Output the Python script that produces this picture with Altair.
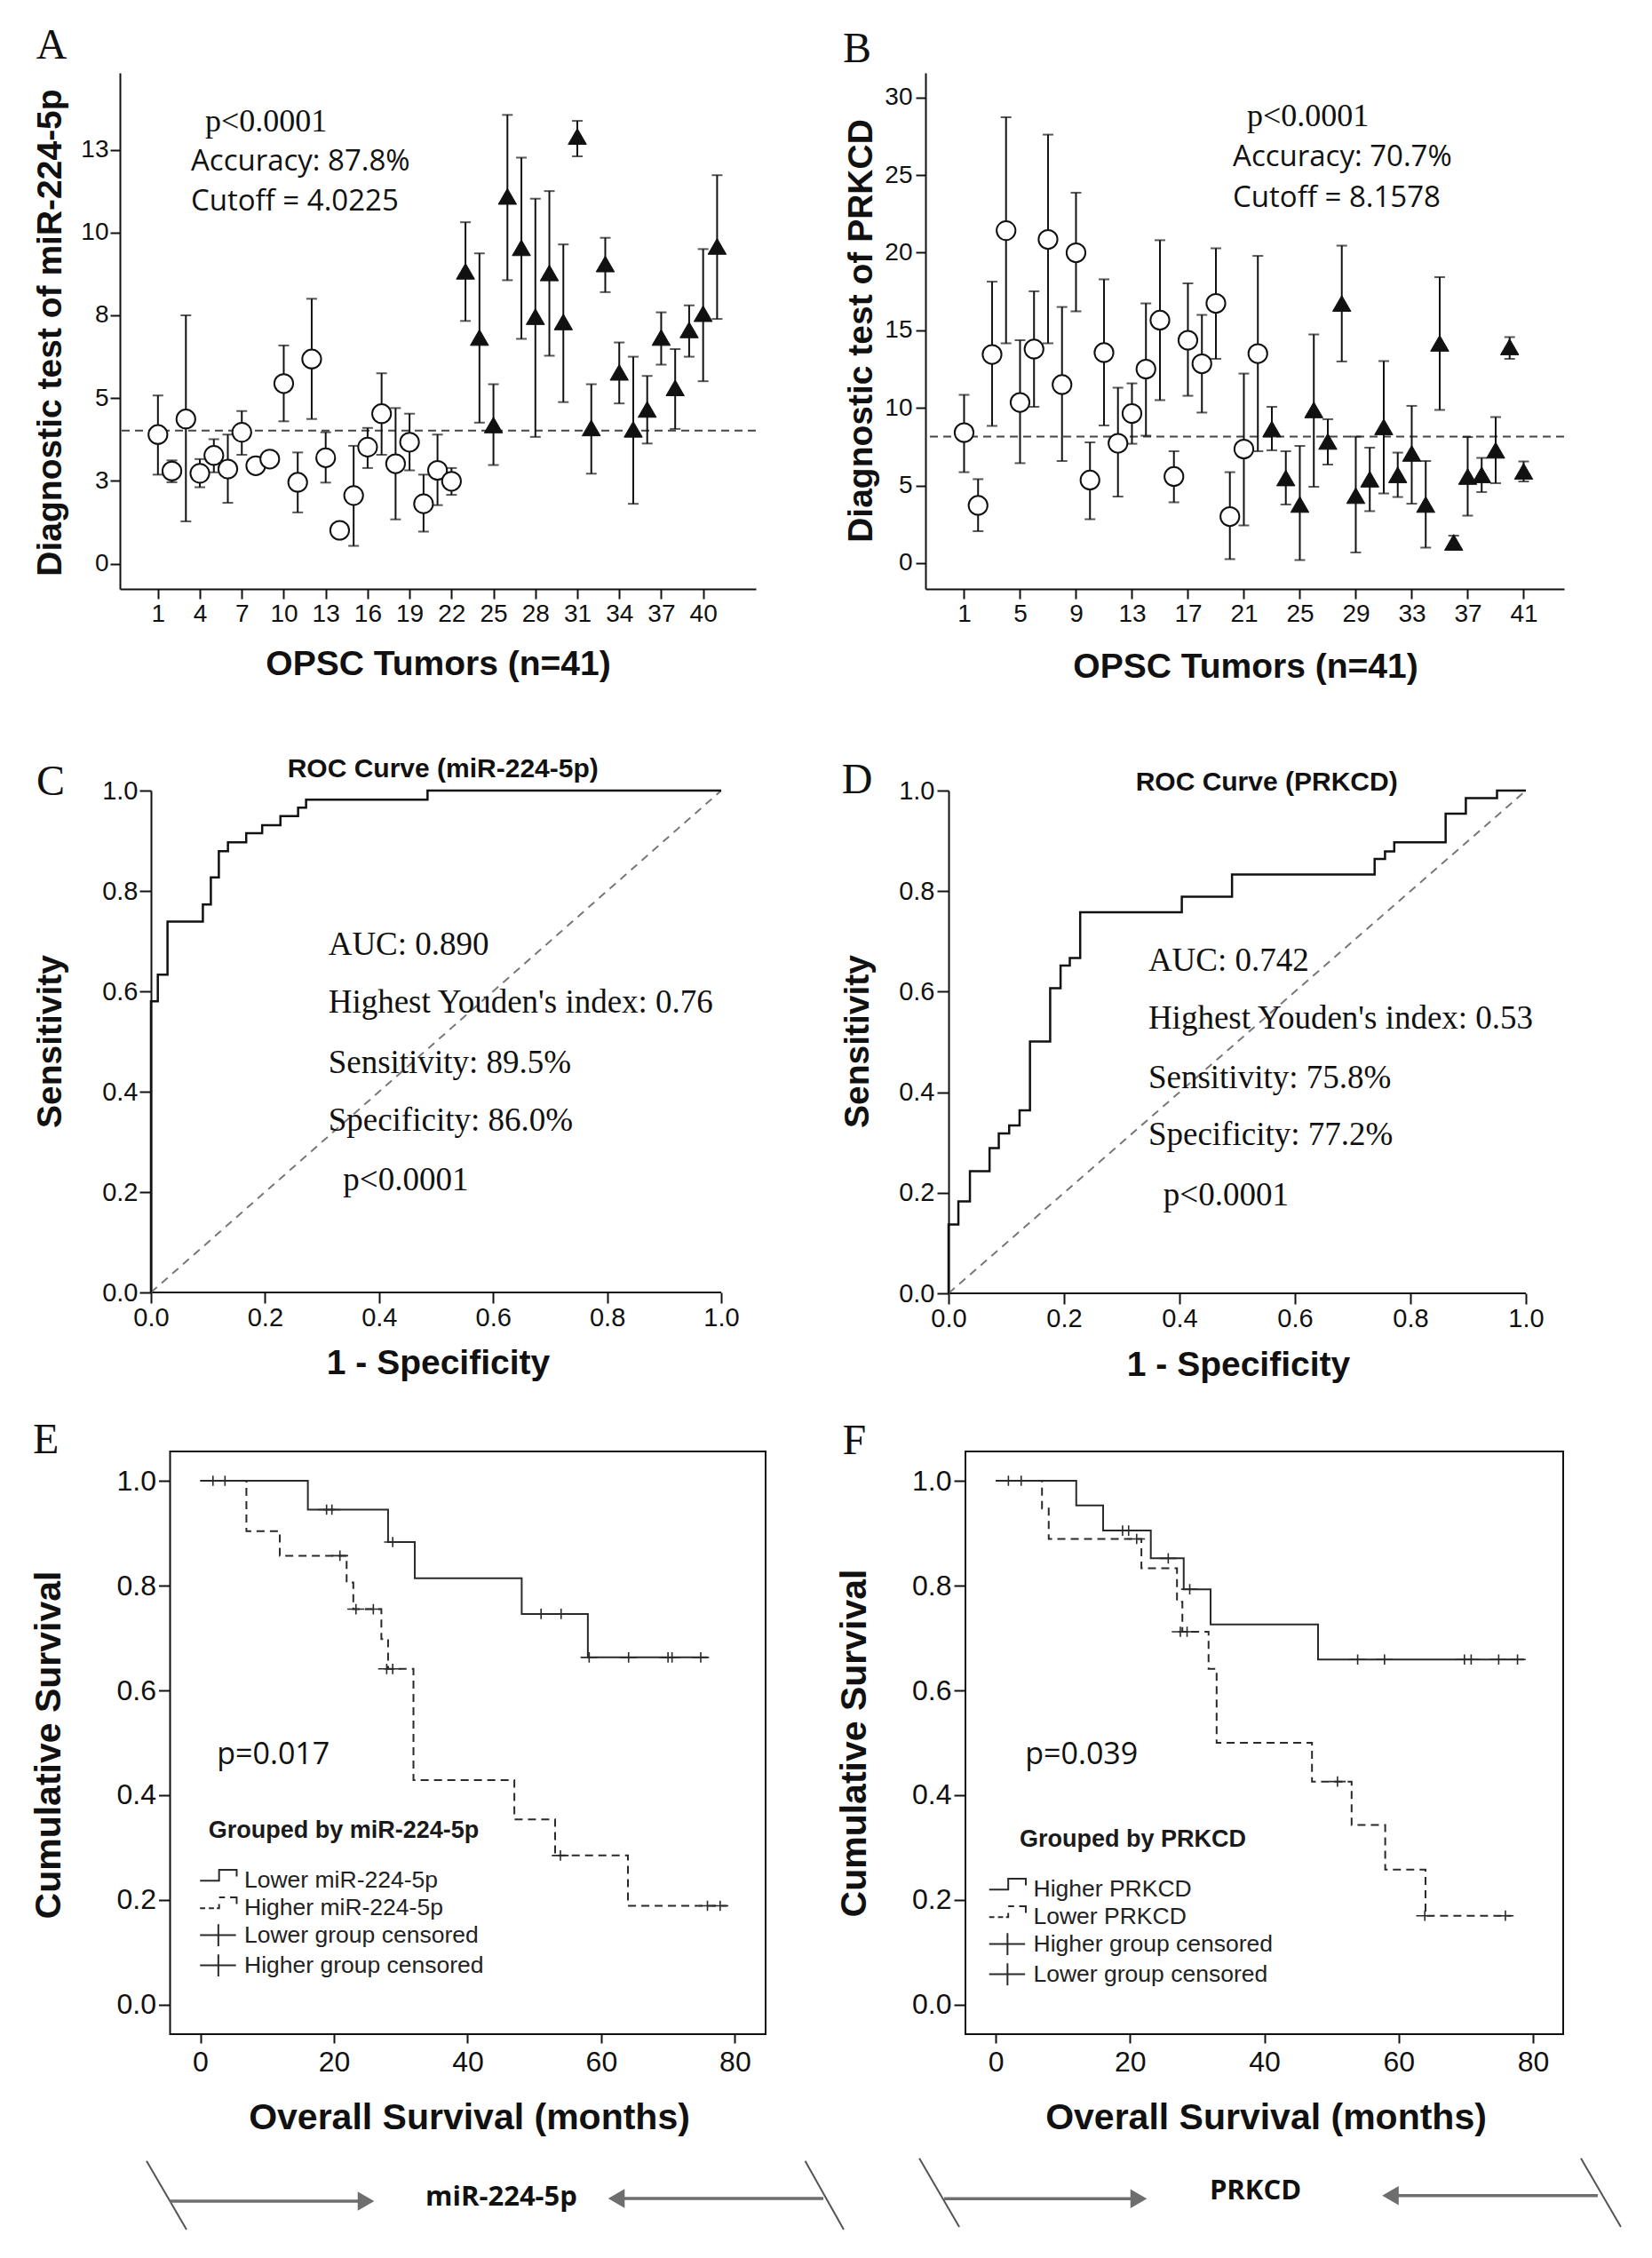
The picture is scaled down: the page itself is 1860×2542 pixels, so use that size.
import altair as alt
import pandas as pd

SANS = "Liberation Sans"
SERIF = "Liberation Serif"
SOFT = "Open Sans"
INK = "#111111"
LINE = "#2a2a2a"
ARROW = "#6e6e6e"

# ---------------- Panels A / B : per-tumour diagnostic test ----------------
tumor = list(range(1, 42))
marker_kind = ["below"] * 22 + ["above"] * 19

mir_mean = [3.90, 2.80, 4.37, 2.73, 3.27, 2.86, 3.97, 2.96, 3.16, 5.44, 2.46, 6.18, 3.20, 1.01,
            2.06, 3.52, 4.53, 3.02, 3.67, 1.81, 2.82, 2.49, 8.83, 6.83, 4.19, 11.09, 9.54, 7.46,
            8.78, 7.30, 12.90, 4.10, 9.05, 5.78, 4.06, 4.66, 6.83, 5.31, 7.06, 7.55, 9.58]
mir_low = [2.69, 2.46, 1.28, 2.31, 2.76, 1.84, 3.29, 2.82, 2.98, 4.30, 1.55, 4.37, 2.45, 0.77,
           0.54, 2.89, 3.29, 1.34, 2.82, 0.97, 1.77, 2.08, 7.33, 4.26, 2.98, 8.56, 6.79, 3.83,
           6.28, 4.88, 12.30, 2.72, 8.20, 4.84, 1.81, 3.63, 6.01, 4.07, 6.25, 5.51, 7.39]
mir_high = [5.08, 3.12, 7.50, 3.16, 3.76, 3.90, 4.61, 3.09, 3.29, 6.59, 3.36, 8.00, 3.97, 1.21,
            3.56, 4.10, 5.75, 4.70, 4.53, 2.69, 3.90, 2.89, 10.31, 9.37, 5.42, 13.55, 12.26, 11.02,
            11.25, 9.64, 13.37, 5.42, 9.84, 6.68, 6.25, 5.67, 7.59, 6.48, 7.80, 9.50, 11.73]
mir_cutoff = [4.0225]

prk_mean = [8.41, 3.72, 13.44, 21.42, 10.35, 13.79, 20.85, 11.50, 19.99, 5.35, 13.56, 7.72, 9.64,
            12.50, 15.65, 5.58, 14.36, 12.84, 16.73, 3.00, 7.35, 13.50, 8.64, 5.49, 3.78, 9.87,
            7.84, 16.73, 4.35, 5.41, 8.78, 5.69, 7.07, 3.78, 14.16, 1.34, 5.58, 5.69, 7.27, 13.93, 5.92]
prk_low = [5.86, 2.06, 8.84, 14.16, 6.44, 10.07, 14.16, 6.58, 16.22, 2.83, 8.87, 4.29, 7.69,
           8.21, 10.50, 3.92, 10.78, 9.70, 13.16, 0.26, 2.43, 7.21, 7.27, 3.78, 0.20, 4.92,
           6.35, 12.99, 0.69, 3.35, 4.49, 4.26, 3.83, 1.00, 9.87, 1.00, 3.06, 4.58, 5.15, 13.16, 5.26]
prk_high = [10.84, 5.41, 18.13, 28.72, 14.36, 17.51, 27.60, 16.50, 23.86, 7.78, 18.28, 11.30, 11.58,
            16.73, 20.80, 7.21, 18.02, 15.99, 20.28, 5.86, 12.21, 19.79, 10.07, 7.21, 7.55, 14.73,
            9.27, 20.45, 8.15, 7.44, 13.01, 7.12, 10.13, 6.58, 18.42, 1.77, 8.12, 6.78, 9.41, 14.56, 6.55]
prk_cutoff = [8.1578]

ticks_a_x = [1, 4, 7, 10, 13, 16, 19, 22, 25, 28, 31, 34, 37, 40]
ticks_a_y = [0, 2.5, 5, 7.5, 10, 12.5]
ticks_b_x = [1, 5, 9, 13, 17, 21, 25, 29, 33, 37, 41]
ticks_b_y = [0, 5, 10, 15, 20, 25, 30]

notes_a = ["Accuracy: 87.8%", "Cutoff = 4.0225"]
notes_a_x = [3.36, 3.36]
notes_a_y = [12.14, 10.93]
notes_b = ["Accuracy: 70.7%", "Cutoff = 8.1578"]
notes_b_x = [20.21, 20.21]
notes_b_y = [26.12, 23.54]
pnote_a = (4.38, 13.35)
pnote_b = (21.22, 28.80)

# ---------------- Panels C / D : ROC curves ----------------
roc_c_fpr = [0, 0, 0.012, 0.029, 0.091, 0.105, 0.119, 0.135, 0.167, 0.195, 0.227, 0.258, 0.272, 0.485, 1.0]
roc_c_tpr = [0, 0.58, 0.633, 0.739, 0.773, 0.827, 0.879, 0.897, 0.915, 0.931, 0.949, 0.966, 0.982, 1.0, 1.0]
roc_d_fpr = [0, 0, 0.017, 0.037, 0.071, 0.087, 0.105, 0.123, 0.141, 0.176, 0.194, 0.210, 0.228,
             0.404, 0.491, 0.738, 0.756, 0.772, 0.861, 0.896, 0.950, 1.0]
roc_d_tpr = [0, 0.137, 0.183, 0.243, 0.289, 0.318, 0.334, 0.364, 0.501, 0.607, 0.652, 0.667, 0.758,
             0.789, 0.833, 0.864, 0.879, 0.897, 0.954, 0.985, 1.0, 1.0]
diag = [0, 1]
roc_ticks = [0, 0.2, 0.4, 0.6, 0.8, 1.0]

roc_c_notes = ["AUC: 0.890", "Highest Youden's index: 0.76", "Sensitivity: 89.5%",
               "Specificity: 86.0%", "p<0.0001"]
roc_c_notes_x = [0.311, 0.311, 0.311, 0.311, 0.337]
roc_c_notes_y = [0.692, 0.577, 0.4575, 0.342, 0.223]
roc_d_notes = ["AUC: 0.742", "Highest Youden's index: 0.53", "Sensitivity: 75.8%",
               "Specificity: 77.2%", "p<0.0001"]
roc_d_notes_x = [0.346, 0.346, 0.346, 0.346, 0.372]
roc_d_notes_y = [0.660, 0.546, 0.428, 0.314, 0.194]

# ---------------- Panels E / F : Kaplan-Meier ----------------
km_e_low_t = [0, 16.1, 28.1, 32.1, 48.1, 58.0, 75.9]
km_e_low_s = [1.0, 0.945, 0.883, 0.814, 0.746, 0.663, 0.663]
km_e_high_t = [0, 6.9, 11.9, 21.9, 22.9, 27.1, 28.1, 31.9, 47.0, 53.1, 64.0, 78.8]
km_e_high_s = [1.0, 0.904, 0.857, 0.806, 0.755, 0.698, 0.641, 0.429, 0.354, 0.285, 0.189, 0.189]
cen_e_low_t = [2.0, 3.8, 19.0, 19.8, 28.9, 51.1, 54.1, 58.3, 64.2, 70.1, 70.7, 75.0]
cen_e_low_s = [1.0, 1.0, 0.945, 0.945, 0.883, 0.746, 0.746, 0.663, 0.663, 0.663, 0.663, 0.663]
cen_e_high_t = [21.0, 23.4, 26.0, 28.0, 28.9, 54.0, 76.0, 77.9]
cen_e_high_s = [0.857, 0.755, 0.755, 0.641, 0.641, 0.285, 0.189, 0.189]

km_f_high_t = [0, 12.0, 16.0, 23.1, 28.0, 32.0, 48.0, 78.7]
km_f_high_s = [1.0, 0.953, 0.905, 0.852, 0.793, 0.726, 0.659, 0.659]
km_f_low_t = [0, 6.9, 7.9, 21.7, 27.0, 27.8, 31.7, 32.9, 47.1, 53.0, 58.0, 64.0, 76.8]
km_f_low_s = [1.0, 0.947, 0.889, 0.833, 0.769, 0.712, 0.641, 0.500, 0.426, 0.343, 0.258, 0.170, 0.170]
cen_f_high_t = [2.0, 3.9, 19.0, 19.9, 25.8, 29.0, 54.0, 58.0, 69.9, 70.9, 75.0, 77.8]
cen_f_high_s = [1.0, 1.0, 0.905, 0.905, 0.852, 0.793, 0.659, 0.659, 0.659, 0.659, 0.659, 0.659]
cen_f_low_t = [21.1, 27.6, 28.6, 51.0, 64.0, 76.0]
cen_f_low_s = [0.889, 0.712, 0.712, 0.426, 0.170, 0.170]

keys_e = ["Lower miR-224-5p", "Higher miR-224-5p", "Lower group censored", "Higher group censored"]
keys_f = ["Higher PRKCD", "Lower PRKCD", "Higher group censored", "Lower group censored"]
km_ticks_x = [0, 20, 40, 60, 80]
km_ticks_y = [0, 0.2, 0.4, 0.6, 0.8, 1.0]
km_frame_e = ([-4.52, 84.6], [-0.056, 1.056])
km_frame_f = ([-4.5, 84.5], [-0.056, 1.056])

# decorative arrows under E and F (survival-axis units)
arr_e = dict(slant_x=[-8.04, 90.52], slant_x2=[-2.06, 96.29], slant_y=[-0.298, -0.298], slant_y2=[-0.429, -0.429],
             shaft_x=[-4.59, 62.27], shaft_x2=[24.79, 93.24], shaft_y=[-0.3746, -0.3695],
             head_r=(24.79, -0.3746), head_l=(62.27, -0.3695), label=("miR-224-5p", 45.06, -0.368))
arr_f = dict(slant_x=[-11.37, 87.14], slant_x2=[-5.42, 93.09], slant_y=[-0.293, -0.293], slant_y2=[-0.424, -0.424],
             shaft_x=[-7.67, 58.78], shaft_x2=[21.29, 89.65], shaft_y=[-0.370, -0.364],
             head_r=(21.29, -0.370), head_l=(58.78, -0.364), label=("PRKCD", 38.68, -0.356))

STEP_SOLID = "M-1.35,0.05H-0.05V-0.7H1.15V-0.25"
STEP_DASH = "M-1.35,0.05H-1.0M-0.75,0.05H-0.4M-0.2,0.05H-0.05V-0.25M-0.05,-0.7H0.35M0.7,-0.7H1.15V-0.25"
PLUS = "M-1.35,0H1.1M-0.1,-0.75V0.75"


def axis(**kw):
    base = dict(grid=False, domainColor=INK, domainWidth=2, tickColor=INK, tickWidth=2,
                labelFont=SANS, labelColor=INK, labelFlush=False, labelOverlap=False,
                titleFont=SANS, titleFontWeight="bold", titleColor=INK,
                titleAlign="center", titleBaseline="middle")
    base.update(kw)
    return alt.Axis(**base)


def letter_layer(X, Y, text, x, y):
    df = pd.DataFrame({"lx": [x], "ly": [y], "lt": [text]})
    return alt.Chart(df).mark_text(font=SERIF, fontSize=48, align="left", baseline="alphabetic",
                                   color=INK).encode(x=X("lx"), y=Y("ly"), text="lt:N")


def scatter_panel(mean, lo, hi, cut, scx, scy, axx, axy, notes, nx, ny, pnote, letter, w, h):
    X = lambda f: alt.X(f, type="quantitative", scale=scx, axis=axx)
    Y = lambda f: alt.Y(f, type="quantitative", scale=scy, axis=axy)
    df = pd.DataFrame({"tumor": tumor, "mean": mean, "lo": lo, "hi": hi, "kind": marker_kind})
    base = alt.Chart(df)
    cutl = alt.Chart(pd.DataFrame({"cut": cut})).mark_rule(
        color="#444444", strokeWidth=2, strokeDash=[9, 6]).encode(y=Y("cut"))
    bars = base.mark_rule(color=INK, strokeWidth=2).encode(x=X("tumor"), y=Y("lo"), y2="hi")
    cap_lo = base.mark_tick(orient="horizontal", size=12, thickness=2, color=INK).encode(x=X("tumor"), y=Y("lo"))
    cap_hi = base.mark_tick(orient="horizontal", size=12, thickness=2, color=INK).encode(x=X("tumor"), y=Y("hi"))
    circ = base.transform_filter(alt.datum.kind == "below").mark_point(
        shape="circle", size=450, filled=True, fill="white", stroke=INK, strokeWidth=2, opacity=1
    ).encode(x=X("tumor"), y=Y("mean"))
    tri = base.transform_filter(alt.datum.kind == "above").mark_point(
        shape="triangle-up", size=420, filled=True, fill=INK, stroke=INK, strokeWidth=1, opacity=1
    ).encode(x=X("tumor"), y=Y("mean"))
    ndf = pd.DataFrame({"nx": nx, "ny": ny, "nt": notes})
    ntext = alt.Chart(ndf).mark_text(font=SOFT, fontSize=33, align="left", baseline="middle",
                                     color=INK).encode(x=X("nx"), y=Y("ny"), text="nt:N")
    pdf = pd.DataFrame({"px": [pnote[0]], "py": [pnote[1]], "pt": ["p<0.0001"]})
    ptext = alt.Chart(pdf).mark_text(font=SERIF, fontSize=36, align="left", baseline="middle",
                                     color=INK).encode(x=X("px"), y=Y("py"), text="pt:N")
    let = letter_layer(X, Y, *letter)
    return alt.layer(cutl, bars, cap_lo, cap_hi, circ, tri, ntext, ptext, let).properties(width=w, height=h)


def roc_panel(fpr, tpr, notes, nx, ny, title, letter, scx, axx, axy, w, h):
    scy = alt.Scale(domain=[0, 1], nice=False, zero=False)
    X = lambda f: alt.X(f, type="quantitative", scale=scx, axis=axx)
    Y = lambda f: alt.Y(f, type="quantitative", scale=scy, axis=axy)
    base_df = pd.DataFrame({"bx": [diag[0]], "bx2": [diag[1]], "by": [diag[0]]})
    baseline = alt.Chart(base_df).mark_rule(color=INK, strokeWidth=2).encode(x=X("bx"), x2="bx2", y=Y("by"))
    ddf = pd.DataFrame({"dx": diag, "dy": diag})
    dline = alt.Chart(ddf).mark_line(color="#777777", strokeWidth=2, strokeDash=[9, 7]).encode(x=X("dx"), y=Y("dy"))
    rdf = pd.DataFrame({"fpr": fpr, "tpr": tpr, "i": list(range(len(fpr)))})
    curve = alt.Chart(rdf).mark_line(interpolate="step-after", color=INK, strokeWidth=2.5).encode(
        x=X("fpr"), y=Y("tpr"), order="i:Q")
    ndf = pd.DataFrame({"nx": nx, "ny": ny, "nt": notes})
    ntext = alt.Chart(ndf).mark_text(font=SERIF, fontSize=37, align="left", baseline="middle",
                                     color=INK).encode(x=X("nx"), y=Y("ny"), text="nt:N")
    tdf = pd.DataFrame({"tx": [title[1]], "ty": [title[2]], "tt": [title[0]]})
    ttext = alt.Chart(tdf).mark_text(font=SANS, fontSize=30, fontWeight="bold", align="center",
                                     baseline="middle", color=INK).encode(x=X("tx"), y=Y("ty"), text="tt:N")
    let = letter_layer(X, Y, *letter)
    return alt.layer(baseline, dline, curve, ntext, ttext, let).properties(width=w, height=h)


def km_panel(solid, dashed, cens_a, cens_b, keys, legend_title, pnote, arr, letter, frame,
             scx, scy, axx, axy, legx, legy, w, h):
    X = lambda f: alt.X(f, type="quantitative", scale=scx, axis=axx)
    Y = lambda f: alt.Y(f, type="quantitative", scale=scy, axis=axy)
    fdf = pd.DataFrame({"x": [frame[0][0]], "x2": [frame[0][1]], "y": [frame[1][0]], "y2": [frame[1][1]]})
    box = alt.Chart(fdf).mark_rect(fillOpacity=0, stroke=INK, strokeWidth=2).encode(
        x=X("x"), x2="x2", y=Y("y"), y2="y2")
    sdf = pd.DataFrame({"t": solid[0], "s": solid[1], "i": list(range(len(solid[0])))})
    ddf = pd.DataFrame({"t": dashed[0], "s": dashed[1], "i": list(range(len(dashed[0])))})
    l1 = alt.Chart(sdf).mark_line(interpolate="step-after", color=LINE, strokeWidth=2).encode(
        x=X("t"), y=Y("s"), order="i:Q")
    l2 = alt.Chart(ddf).mark_line(interpolate="step-after", color=LINE, strokeWidth=2,
                                  strokeDash=[9, 6]).encode(x=X("t"), y=Y("s"), order="i:Q")
    cdf = pd.concat([
        pd.DataFrame({"t": cens_a[0], "s": cens_a[1], "key": keys[2]}),
        pd.DataFrame({"t": cens_b[0], "s": cens_b[1], "key": keys[3]}),
    ])
    leg = alt.Legend(title=legend_title, orient="none", legendX=legx, legendY=legy, padding=0,
                     titleFont=SANS, titleFontSize=27, titleFontWeight="bold", titleColor="#1a1a1a",
                     titleAnchor="middle", titlePadding=24, titleLimit=600,
                     labelFont=SANS, labelFontSize=26.5, labelColor="#222222", labelOffset=10, labelLimit=600,
                     symbolSize=1089, symbolStrokeWidth=2, symbolStrokeColor=LINE,
                     symbolFillColor="transparent", symbolOpacity=1, rowPadding=0)
    cens = alt.Chart(cdf).mark_point(filled=False, color=LINE, strokeWidth=1.6, size=240, opacity=1).encode(
        x=X("t"), y=Y("s"),
        shape=alt.Shape("key:N", scale=alt.Scale(domain=keys, range=[STEP_SOLID, STEP_DASH, PLUS, PLUS]),
                        legend=leg))
    pdf = pd.DataFrame({"px": [pnote[1]], "py": [pnote[2]], "pt": [pnote[0]]})
    ptext = alt.Chart(pdf).mark_text(font=SOFT, fontSize=34, align="left", baseline="middle",
                                     color=INK).encode(x=X("px"), y=Y("py"), text="pt:N")
    # arrows
    slant = alt.Chart(pd.DataFrame({"x": arr["slant_x"], "x2": arr["slant_x2"], "y": arr["slant_y"],
                                    "y2": arr["slant_y2"]})).mark_rule(color="#555555", strokeWidth=2).encode(
        x=X("x"), x2="x2", y=Y("y"), y2="y2")
    shaft = alt.Chart(pd.DataFrame({"x": arr["shaft_x"], "x2": arr["shaft_x2"], "y": arr["shaft_y"]})).mark_rule(
        color=ARROW, strokeWidth=3.5).encode(x=X("x"), x2="x2", y=Y("y"))
    hr = alt.Chart(pd.DataFrame({"x": [arr["head_r"][0]], "y": [arr["head_r"][1]]})).mark_point(
        shape="triangle-right", size=460, filled=True, color=ARROW, opacity=1).encode(x=X("x"), y=Y("y"))
    hl = alt.Chart(pd.DataFrame({"x": [arr["head_l"][0]], "y": [arr["head_l"][1]]})).mark_point(
        shape="triangle-left", size=460, filled=True, color=ARROW, opacity=1).encode(x=X("x"), y=Y("y"))
    lab = alt.Chart(pd.DataFrame({"x": [arr["label"][1]], "y": [arr["label"][2]], "t": [arr["label"][0]]})).mark_text(
        font=SOFT, fontSize=31, fontWeight="bold", align="center", baseline="middle", color=INK).encode(
        x=X("x"), y=Y("y"), text="t:N")
    let = letter_layer(X, Y, *letter)
    return alt.layer(box, l1, l2, cens, ptext, slant, shaft, hr, hl, lab, let).properties(width=w, height=h)


# ---------------- build panels ----------------
panel_a = scatter_panel(
    mir_mean, mir_low, mir_high, mir_cutoff,
    alt.Scale(domain=[-1.72, 43.77], nice=False, zero=False),
    alt.Scale(domain=[-0.76, 14.82], nice=False, zero=False),
    axis(values=ticks_a_x, title="OPSC Tumors (n=41)", labelFontSize=28, tickSize=11, labelPadding=3,
         titleFontSize=39, titleX=358, titleY=84),
    axis(values=ticks_a_y, labelExpr="round(datum.value)", title="Diagnostic test of miR-224-5p",
         labelFontSize=28, tickSize=11, labelPadding=2, titleFontSize=39, titleX=-79, titleY=292, titleAngle=270),
    notes_a, notes_a_x, notes_a_y, pnote_a, ("A", -7.71, 15.25), 716, 581)

panel_b = scatter_panel(
    prk_mean, prk_low, prk_high, prk_cutoff,
    alt.Scale(domain=[-1.76, 43.89], nice=False, zero=False),
    alt.Scale(domain=[-1.66, 31.58], nice=False, zero=False),
    axis(values=ticks_b_x, title="OPSC Tumors (n=41)", labelFontSize=28, tickSize=11, labelPadding=3,
         titleFontSize=39, titleX=360, titleY=87),
    axis(values=ticks_b_y, title="Diagnostic test of PRKCD", labelFontSize=28, tickSize=11, labelPadding=4,
         titleFontSize=39, titleX=-73, titleY=290, titleAngle=270),
    notes_b, notes_b_x, notes_b_y, pnote_b, ("B", -7.66, 32.24), 719, 581)

# panel C: plot area starts at the same left edge as panel A; the axes are shifted in to 0.0
panel_c = roc_panel(
    roc_c_fpr, roc_c_tpr, roc_c_notes, roc_c_notes_x, roc_c_notes_y,
    ("ROC Curve (miR-224-5p)", 0.512, 1.042), ("C", -0.201, 0.992),
    alt.Scale(domain=[-0.0545, 1], nice=False, zero=False),
    axis(values=roc_ticks, format=".1f", domain=False, title="1 - Specificity", labelFontSize=29, tickSize=12,
         labelPadding=2, titleFontSize=39, titleX=358, titleY=79),
    axis(values=roc_ticks, format=".1f", offset=-35, title="Sensitivity", labelFontSize=29, tickSize=13,
         labelPadding=2, titleFontSize=39, titleX=-114, titleY=282, titleAngle=270),
    677, 565)

panel_d = roc_panel(
    roc_d_fpr, roc_d_tpr, roc_d_notes, roc_d_notes_x, roc_d_notes_y,
    ("ROC Curve (PRKCD)", 0.551, 1.016), ("D", -0.185, 0.994),
    alt.Scale(domain=[0, 1], nice=False, zero=False),
    axis(values=roc_ticks, format=".1f", domain=False, title="1 - Specificity", labelFontSize=29, tickSize=12,
         labelPadding=2, titleFontSize=39, titleX=326, titleY=80),
    axis(values=roc_ticks, format=".1f", title="Sensitivity", labelFontSize=29, tickSize=13, labelPadding=3,
         titleFontSize=39, titleX=-103, titleY=282, titleAngle=270),
    650, 566)

# panel E: plot area starts at the same left edge as panel A; frame and y axis sit at -4.5 months
panel_e = km_panel(
    (km_e_low_t, km_e_low_s), (km_e_high_t, km_e_high_s),
    (cen_e_low_t, cen_e_low_s), (cen_e_high_t, cen_e_high_s),
    keys_e, "Grouped by miR-224-5p", ("p=0.017", 2.5, 0.476), arr_e, ("E", -25.05, 1.0525), km_frame_e,
    alt.Scale(domain=[-12.03, 84.6], nice=False, zero=False),
    alt.Scale(domain=[-0.056, 1.056], nice=False, zero=False),
    axis(values=km_ticks_x, domain=False, title="Overall Survival (months)", labelFontSize=32, tickSize=10,
         labelPadding=6, titleFontSize=41, titleX=393, titleY=94),
    axis(values=km_ticks_y, format=".1f", domain=False, offset=-56.5, title="Cumulative Survival",
         labelFontSize=32, tickSize=13, labelPadding=3, titleFontSize=41, titleX=-136, titleY=330,
         titleAngle=270),
    95, 414, 727, 656)

panel_f = km_panel(
    (km_f_high_t, km_f_high_s), (km_f_low_t, km_f_low_s),
    (cen_f_high_t, cen_f_high_s), (cen_f_low_t, cen_f_low_s),
    keys_f, "Grouped by PRKCD", ("p=0.039", 4.4, 0.476), arr_f, ("F", -22.8, 1.051), km_frame_f,
    alt.Scale(domain=[-4.5, 84.5], nice=False, zero=False),
    alt.Scale(domain=[-0.056, 1.056], nice=False, zero=False),
    axis(values=km_ticks_x, domain=False, title="Overall Survival (months)", labelFontSize=32, tickSize=10,
         labelPadding=6, titleFontSize=41, titleX=338, titleY=94),
    axis(values=km_ticks_y, format=".1f", domain=False, title="Cumulative Survival", labelFontSize=32,
         tickSize=13, labelPadding=3, titleFontSize=41, titleX=-125, titleY=328, titleAngle=270),
    31.5, 424, 673, 656)

row1 = alt.concat(panel_a, panel_b, columns=2, align="none", spacing=97)
row2 = alt.concat(panel_c, panel_d, columns=2, align="none", spacing=113)
row3 = alt.concat(panel_e, panel_f, columns=2, align="none", spacing=-10).resolve_scale(
    shape="independent").resolve_legend(shape="independent")
upper = alt.concat(row1, row2, columns=1, align="none", spacing=81)

chart = alt.concat(upper, row3, columns=1, align="none", spacing=42).resolve_scale(
    shape="independent").resolve_legend(shape="independent").properties(
    padding={"left": 26, "top": 19, "right": 5, "bottom": 5},
    background="white",
).configure_view(strokeWidth=0)

chart.save("out.html", embed_options={"renderer": "svg", "actions": False})
